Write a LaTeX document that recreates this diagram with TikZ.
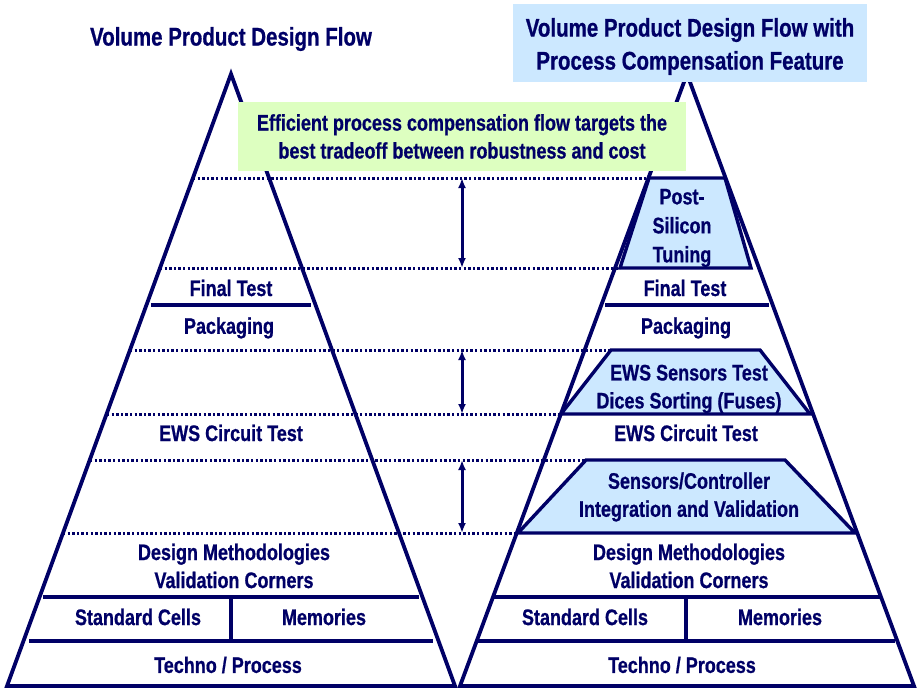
\documentclass[tikz,border=0pt]{standalone}
\usepackage{fontspec}
\setmainfont{Liberation Sans}[FakeStretch=0.8, BoldFeatures={FakeBold=0.7}]
\usetikzlibrary{arrows.meta}
\definecolor{navy}{RGB}{0,0,102}
\definecolor{lgreen}{RGB}{221,255,192}
\definecolor{lblue}{RGB}{204,232,255}
\begin{document}
\begin{tikzpicture}[x=1pt,y=-1pt,
  txt/.style={font=\fontsize{22.5}{28}\selectfont\bfseries, text=navy, align=center, inner sep=0pt},
  ttl/.style={font=\fontsize{25.6}{33}\selectfont\bfseries, text=navy, align=center, inner sep=0pt},
  edge/.style={draw=navy, line width=3.8pt, line join=miter},
  sepline/.style={draw=navy, line width=3.4pt},
  dots/.style={draw=navy, line width=3pt, dash pattern=on 2.4pt off 2.2pt},
  span/.style={draw=navy, line width=3pt, {Latex[length=10pt,width=8pt]}-{Latex[length=10pt,width=8pt]}},
  comp/.style={draw=navy, line width=3.4pt, fill=lblue, line join=miter},
  note/.style={fill=lgreen, minimum width=448pt, minimum height=69pt},
  head/.style={fill=lblue, minimum width=354pt, minimum height=78pt, inner sep=0pt}]
\useasboundingbox (0,0) rectangle (917,690);
% dotted levels
\coordinate (d1a) at (193,178); \coordinate (d1b) at (649,178);
\coordinate (d2a) at (160,268); \coordinate (d2b) at (620,268);
\coordinate (d3a) at (130,350); \coordinate (d3b) at (611,350);
\coordinate (d4a) at (107,414); \coordinate (d4b) at (561,414);
\coordinate (d5a) at (90,460);  \coordinate (d5b) at (586,460);
\coordinate (d6a) at (63,533);  \coordinate (d6b) at (518,533);
\foreach \i in {1,...,6} \draw[dots] (d\i a) -- (d\i b);
% arrows
\coordinate (a1t) at (462,178); \coordinate (a1b) at (462,268);
\coordinate (a2t) at (462,350); \coordinate (a2b) at (462,414);
\coordinate (a3t) at (462,460); \coordinate (a3b) at (462,533);
\foreach \i in {1,2,3} \draw[span] (a\i t) -- (a\i b);
% compensation trapezoids
\draw[comp] (649,178) -- (725,178) -- (751,268) -- (620,268) -- cycle;
\draw[comp] (611,350) -- (760,350) -- (810,414) -- (561,414) -- cycle;
\draw[comp] (586,460) -- (785,460) -- (855,533) -- (518,533) -- cycle;
% triangles
\coordinate (lA) at (231,74); \coordinate (lL) at (7,686); \coordinate (lR) at (455,686);
\coordinate (rA) at (687,74); \coordinate (rL) at (460,686); \coordinate (rR) at (914,686);
\draw[edge] (lA) -- (lL) -- (lR) -- cycle;
\draw[edge] (rA) -- (rL) -- (rR) -- cycle;
% separators left
\coordinate (ls1a) at (151,305); \coordinate (ls1b) at (311,305);
\coordinate (ls2a) at (43,597);  \coordinate (ls2b) at (419,597);
\coordinate (ls3a) at (29,641);  \coordinate (ls3b) at (433,641);
\coordinate (lva) at (231,597);  \coordinate (lvb) at (231,641);
\draw[sepline] (ls1a) -- (ls1b);
\draw[sepline] (ls2a) -- (ls2b);
\draw[sepline] (ls3a) -- (ls3b);
\draw[sepline] (lva) -- (lvb);
% separators right
\coordinate (rs1a) at (605,305); \coordinate (rs1b) at (769,305);
\coordinate (rs2a) at (492,597); \coordinate (rs2b) at (880,597);
\coordinate (rs3a) at (478,641); \coordinate (rs3b) at (895,641);
\coordinate (rva) at (686,597);  \coordinate (rvb) at (686,641);
\draw[sepline] (rs1a) -- (rs1b);
\draw[sepline] (rs2a) -- (rs2b);
\draw[sepline] (rs3a) -- (rs3b);
\draw[sepline] (rva) -- (rvb);
% boxes
\node[note, txt] (noteBox) at (462,136.5) {Efficient process compensation flow targets the\\best tradeoff between robustness and cost};
\node[head] (rTitleBox) at (690,43) {};
\node[ttl] (rTitle) at (690,46.5) {Volume Product Design Flow with\\Process Compensation Feature};
\node[ttl] (lTitle) at (231,39) {Volume Product Design Flow};
% left labels
\node[txt] (lFinal) at (231,288) {Final Test};
\node[txt] (lPack) at (229,328) {Packaging};
\node[txt] (lEWS) at (231,433) {EWS Circuit Test};
\node[txt] (lDes) at (234,566) {Design Methodologies\\Validation Corners};
\node[txt] (lStd) at (138,617) {Standard Cells};
\node[txt] (lMem) at (324,617) {Memories};
\node[txt] (lTech) at (228,665) {Techno / Process};
% right labels
\node[txt, font=\fontsize{22.5}{29}\selectfont\bfseries] (rPST) at (682,228) {Post-\\Silicon\\Tuning};
\node[txt] (rFinal) at (685,288) {Final Test};
\node[txt] (rPack) at (686,328) {Packaging};
\node[txt] (rSens) at (689,389) {EWS Sensors Test\\Dices Sorting (Fuses)};
\node[txt] (rEWS) at (686,433) {EWS Circuit Test};
\node[txt] (rCtrl) at (689,497) {Sensors/Controller\\Integration and Validation};
\node[txt] (rDes) at (689,566) {Design Methodologies\\Validation Corners};
\node[txt] (rStd) at (585,617) {Standard Cells};
\node[txt] (rMem) at (780,617) {Memories};
\node[txt] (rTech) at (682,665) {Techno / Process};
\end{tikzpicture}
\end{document}
